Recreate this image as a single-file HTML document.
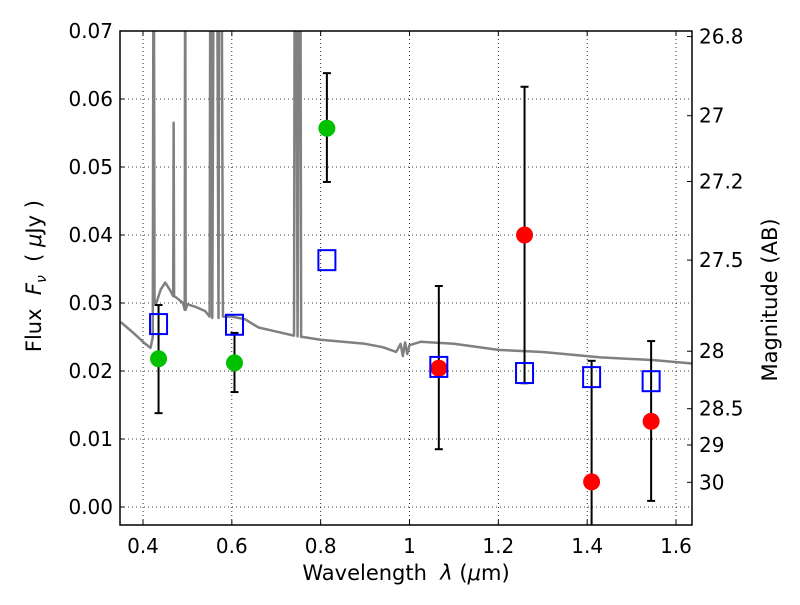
<!DOCTYPE html>
<html><head><meta charset="utf-8"><style>
body{margin:0;background:#fff;}
svg text{font-family:"DejaVu Sans","Liberation Sans",sans-serif;}
</style></head><body>
<svg id="c" width="800" height="600" xmlns="http://www.w3.org/2000/svg"></svg>
<script>
const xTicks=[0.4,0.6,0.8,1.0,1.2,1.4,1.6];
const xTickLabels=["0.4","0.6","0.8","1","1.2","1.4","1.6"];
const yTicks=[0,0.01,0.02,0.03,0.04,0.05,0.06,0.07];
const yTickLabels=["0.00","0.01","0.02","0.03","0.04","0.05","0.06","0.07"];
const magTicks=[26.8,27,27.2,27.5,28,28.5,29,30];
const magTickLabels=["26.8","27","27.2","27.5","28","28.5","29","30"];
const bandWave=[0.435,0.606,0.814,1.066,1.259,1.41,1.544];
const obsFlux=[0.0218,0.0212,0.0557,0.0204,0.0400,0.0037,0.0126];
const errHi=[0.0297,0.0256,0.0638,0.0325,0.0618,0.0215,0.0244];
const errLo=[0.0138,0.0169,0.0478,0.0085,0.0182,-0.01,0.0009];
const obsColor=["#00c000","#00c000","#00c000","red","red","red","red"];
const modelFlux=[0.0269,0.0268,0.0363,0.0206,0.0197,0.0191,0.0185];
const specWave=[0.35,0.38,0.405,0.417,0.422,0.424,0.426,0.43,0.44,0.45,0.46,0.468,0.469,0.470,0.475,0.49,0.494,0.495,0.496,0.5,0.52,0.54,0.55,0.552,0.554,0.556,0.560,0.562,0.566,0.57,0.572,0.576,0.58,0.6,0.63,0.66,0.7,0.74,0.742,0.744,0.748,0.752,0.754,0.756,0.76,0.8,0.85,0.9,0.94,0.97,0.98,0.985,0.99,0.995,1.0,1.025,1.1,1.2,1.3,1.43,1.55,1.636];
const specFlux=[0.0272,0.0255,0.0240,0.0234,0.0250,0.10,0.030,0.0300,0.0320,0.0330,0.0320,0.0310,0.0565,0.0310,0.0308,0.0300,0.0290,0.10,0.0290,0.0298,0.0294,0.0288,0.0280,0.10,0.10,0.0278,0.10,0.10,0.10,0.0278,0.10,0.10,0.0280,0.0280,0.0276,0.0264,0.0258,0.0252,0.10,0.10,0.0251,0.10,0.10,0.0250,0.0250,0.0246,0.0243,0.0240,0.0235,0.0228,0.0240,0.0222,0.0242,0.0225,0.0238,0.0243,0.0240,0.0231,0.0228,0.0220,0.0216,0.0211];

const svg=document.getElementById('c');
const NS="http://www.w3.org/2000/svg";
const L=120,R=692,T=31,B=525;
const X=v=>143+(v-0.4)*(676-143)/1.2;
const Y=v=>507-v*6800;
function mk(tag,attrs,parent){const e=document.createElementNS(NS,tag);for(const k in attrs)e.setAttribute(k,attrs[k]);(parent||svg).appendChild(e);return e;}
const defs=mk('defs',{});const cp=mk('clipPath',{id:'clip'},defs);mk('rect',{x:L,y:T,width:R-L,height:B-T},cp);
const grid=mk('g',{});


xTicks.forEach((t,i)=>{
 const x=X(t);
 mk('line',{x1:x,x2:x,y1:T,y2:B,stroke:'#000','stroke-width':0.8,'stroke-dasharray':'1,3'},grid);
 mk('line',{x1:x,x2:x,y1:B,y2:B-5,stroke:'#000'},grid);
 mk('line',{x1:x,x2:x,y1:T,y2:T+5,stroke:'#000'},grid);
 const tx=mk('text',{x:x,y:B+28,'font-size':20,'text-anchor':'middle'});tx.textContent=xTickLabels[i];
 
 
});
yTicks.forEach((t,i)=>{
 const y=Y(t);
 mk('line',{x1:L,x2:R,y1:y,y2:y,stroke:'#000','stroke-width':0.8,'stroke-dasharray':'1,3'},grid);
 mk('line',{x1:L,x2:L+5,y1:y,y2:y,stroke:'#000'},grid);
 const tx=mk('text',{x:L-7,y:y+7,'font-size':20,'text-anchor':'end'});tx.textContent=yTickLabels[i];
 
 
});
magTicks.forEach((m,i)=>{
 const f=Math.pow(10,(23.9-m)/2.5);const y=Y(f);
 mk('line',{x1:R,x2:R-5,y1:y,y2:y,stroke:'#000'});
 const tx=mk('text',{x:R+7,y:y+7,'font-size':20});tx.textContent=magTickLabels[i];
 
 
});
const pg=mk('g',{'clip-path':'url(#clip)'});
const sp=mk('polyline',{points:specWave.map((w,i)=>X(w)+','+Y(specFlux[i])).join(' '),fill:'none',stroke:'#808080','stroke-width':2.5,'stroke-linejoin':'round'},pg);


bandWave.forEach((w,i)=>{
 const x=X(w);
 const g=mk('g',{},pg);
 
 
 mk('line',{x1:x,x2:x,y1:Y(errHi[i]),y2:Y(errLo[i]),stroke:'#000','stroke-width':2},g);
 mk('line',{x1:x-4,x2:x+4,y1:Y(errHi[i]),y2:Y(errHi[i]),stroke:'#000','stroke-width':2},g);
 mk('line',{x1:x-4,x2:x+4,y1:Y(errLo[i]),y2:Y(errLo[i]),stroke:'#000','stroke-width':2},g);
 mk('circle',{cx:x,cy:Y(obsFlux[i]),r:8.5,fill:obsColor[i]},g);
 const s=mk('rect',{x:x-8.5,y:Y(modelFlux[i])-10,width:17,height:20,fill:'none',stroke:'#0000ff','stroke-width':2},pg);
 
 
});
const fr=mk('rect',{x:L,y:T,width:R-L,height:B-T,fill:'none',stroke:'#000','stroke-width':1.5});


</script>
<div style="position:absolute;left:0;top:0;width:800px;height:600px;pointer-events:none;font-family:'DejaVu Sans','Liberation Sans',sans-serif;">
<div style="position:absolute;left:0;width:812px;top:561px;text-align:center;font-size:21px;">Wavelength &nbsp;<i>λ</i> (<i>μ</i>m)</div>
<div style="position:absolute;left:-114px;top:262px;width:300px;text-align:center;font-size:21px;transform:rotate(-90deg);">Flux &nbsp;<i>F<sub style="font-size:14px">ν</sub></i> &nbsp;( <i>μ</i>Jy )</div>
<div style="position:absolute;left:620px;top:288px;width:300px;text-align:center;font-size:21px;transform:rotate(-90deg);">Magnitude (AB)</div>
</div>
</body></html>
